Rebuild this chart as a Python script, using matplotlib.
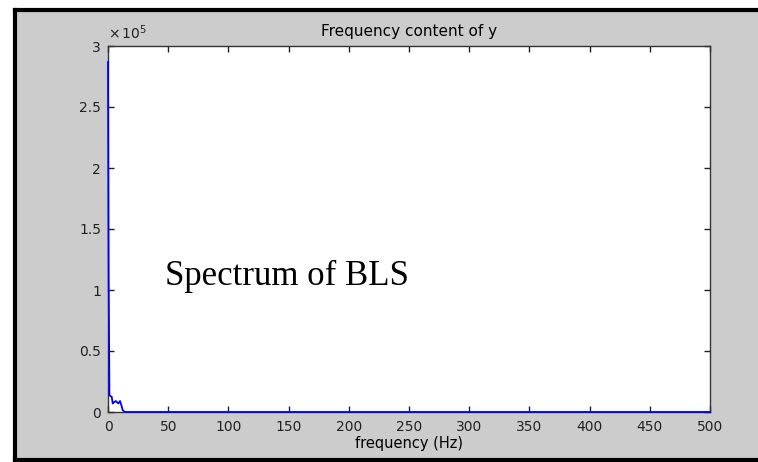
import matplotlib
matplotlib.use('Agg')
import matplotlib.pyplot as plt
from matplotlib.patches import Rectangle
from matplotlib.lines import Line2D
from matplotlib.ticker import FuncFormatter

# spectrum (values in units of 1e5)
freq_hz = [0, 0.5, 1.2, 2, 3.1, 3.9, 5, 6.5, 7.5, 8.6, 10, 11, 12.2, 14, 500]
mag_e5 = [2.87, 1.14, 0.14, 0.13, 0.125, 0.07, 0.08, 0.09, 0.08, 0.07, 0.09, 0.06, 0.015, 0.0, 0.0]
x_ticks = [0, 50, 100, 150, 200, 250, 300, 350, 400, 450, 500]
y_ticks = [0, 0.5, 1, 1.5, 2, 2.5, 3]

matplotlib.rc("font", family="DejaVu Sans")
matplotlib.rc("mathtext", fontset="dejavusans")

W, H = 758, 462
fig = plt.figure(figsize=(W / 100, H / 100), dpi=100, facecolor='#cccccc')

# white margin top/left, black frame on left, top and bottom only
fig.patches.append(Rectangle((0, 0), 15 / W, 1, transform=fig.transFigure,
                             facecolor='white', edgecolor='none', zorder=-10))
fig.patches.append(Rectangle((0, 1 - 10 / H), 1, 10 / H, transform=fig.transFigure,
                             facecolor='white', edgecolor='none', zorder=-10))
xl, yt, yb = 15 / W, 1 - 10 / H, 1 - 460 / H
for xs, ys in [([xl, xl], [yb, yt]), ([xl, 1.0], [yt, yt]), ([xl, 1.0], [yb, yb])]:
    fig.add_artist(Line2D(xs, ys, transform=fig.transFigure, color='black',
                          lw=3.0, solid_capstyle='projecting', zorder=-5))

ax = fig.add_axes([108 / W, 1 - 412 / H, 602 / W, 366 / H])
ax.set_facecolor('white')
ax.plot(freq_hz, [v * 1e5 for v in mag_e5], color='#0000ff', lw=1.3, clip_on=False, zorder=3)

ax.set_xlim(0, 500)
ax.set_ylim(0, 3e5)
ax.set_xticks(x_ticks)
ax.set_yticks([v * 1e5 for v in y_ticks])
ax.yaxis.set_major_formatter(FuncFormatter(lambda v, p: '%g' % (v / 1e5)))
ax.tick_params(direction='in', top=True, right=True, length=4, width=1,
               labelsize=10, colors='#222222')
ax.tick_params(axis='x', pad=6)
ax.tick_params(axis='y', pad=5)
for s in ax.spines.values():
    s.set_color('#333333')
    s.set_linewidth(1.0)

ax.set_title('Frequency content of y', fontsize=11, pad=7)
ax.set_xlabel('frequency (Hz)', fontsize=10.5, labelpad=1)
ax.text(0, 1.01, r'$\times\,10^{5}$', transform=ax.transAxes, fontsize=10,
        ha='left', va='bottom', color='#222222')

ax.text(47, 1.11e5, 'Spectrum of BLS', family='Liberation Serif', fontsize=25,
        ha='left', va='center')

fig.savefig('out.png', dpi=100, facecolor=fig.get_facecolor())
